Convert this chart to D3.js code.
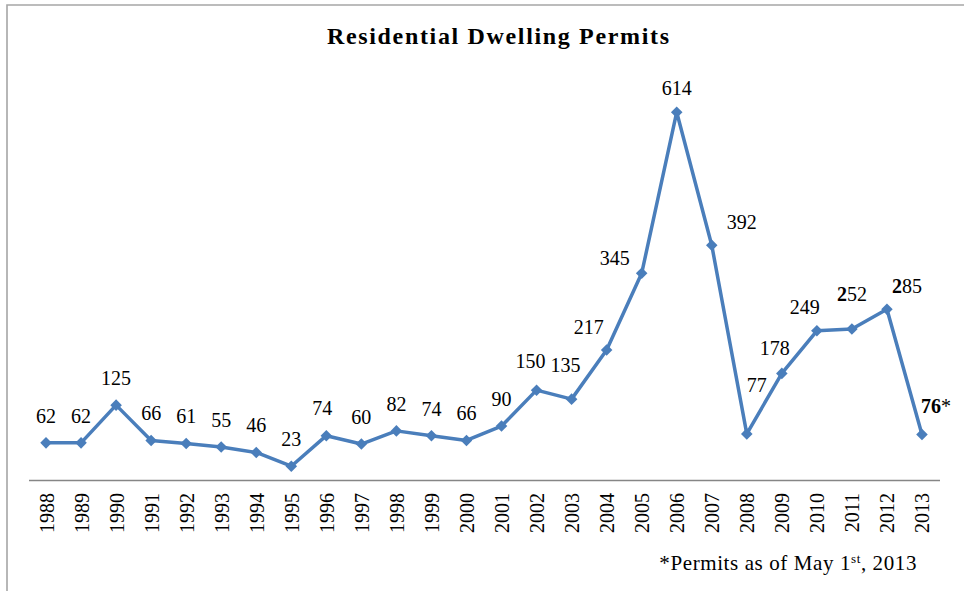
<!DOCTYPE html>
<html>
<head>
<meta charset="utf-8">
<script src="https://cdn.jsdelivr.net/npm/d3@7"></script>
<style>
  body { margin: 0; background: #fff; }
  text { font-family: "Liberation Serif", "Times New Roman", serif; fill: #000; }
</style>
</head>
<body>
<script>
var years = [1988, 1989, 1990, 1991, 1992, 1993, 1994, 1995, 1996, 1997, 1998, 1999, 2000,
             2001, 2002, 2003, 2004, 2005, 2006, 2007, 2008, 2009, 2010, 2011, 2012, 2013];
var permits = [62, 62, 125, 66, 61, 55, 46, 23, 74, 60, 82, 74, 66,
               90, 150, 135, 217, 345, 614, 392, 77, 178, 249, 252, 285, 76];
var title = "Residential Dwelling Permits";

// labels that were dragged by hand in the original
var labelNudge = {
  1996: [-4, -21], 2002: [-6, -22], 2003: [-6, -27], 2004: [-18, -16], 2005: [-27, -8],
  2006: [0, -17], 2007: [30, -16], 2008: [10, -42], 2009: [-7, -18], 2010: [-12, -17],
  2011: [0, -28], 2012: [20, -16], 2013: [14, -21]
};
// how many leading characters of the label are bold
var boldChars = { 2011: 1, 2012: 1, 2013: 2 };

var width = 964, height = 591;
var svg = d3.select("body").append("svg")
  .attr("width", width)
  .attr("height", height);

svg.append("rect").attr("width", width).attr("height", height).attr("fill", "#fff");

// frame (only top and left edges are visible)
svg.append("path")
  .attr("d", "M7,591 V5 H964")
  .attr("fill", "none")
  .attr("stroke", "#a6a6a6")
  .attr("stroke-width", 1.6);

var x = d3.scalePoint()
  .domain(years)
  .range([28.5, 939.5])
  .padding(0.5);

var y = d3.scaleLinear()
  .domain([0, 700])
  .range([480, 60.7]);

svg.append("text")
  .attr("x", 498)
  .attr("y", 44)
  .attr("text-anchor", "middle")
  .style("font-size", "24px")
  .style("font-weight", "bold")
  .attr("textLength", 342)
  .attr("lengthAdjust", "spacing")
  .text(title);

var xAxis = svg.append("g")
  .attr("transform", "translate(0," + y(0) + ")")
  .call(d3.axisBottom(x).tickSize(0).tickPadding(0));

xAxis.select(".domain").attr("stroke", "#868686").attr("stroke-width", 1.3);
xAxis.selectAll(".tick text")
  .attr("transform", "rotate(-90)")
  .attr("text-anchor", "end")
  .attr("x", -13)
  .attr("y", 0)
  .attr("dy", "0.35em")
  .style("font-family", "'Liberation Serif', serif")
  .style("font-size", "20px")
  .attr("fill", "#000");

var data = years.map(function (yr, i) { return { year: yr, value: permits[i] }; });

var line = d3.line()
  .x(function (d) { return x(d.year); })
  .y(function (d) { return y(d.value); });

svg.append("path")
  .datum(data)
  .attr("d", line)
  .attr("fill", "none")
  .attr("stroke", "#4a7ebb")
  .attr("stroke-width", 3.5)
  .attr("stroke-linejoin", "round");

svg.selectAll(".marker")
  .data(data)
  .enter()
  .append("path")
  .classed("marker", true)
  .attr("d", d3.symbol().type(d3.symbolDiamond2).size(85))
  .attr("transform", function (d) { return "translate(" + x(d.year) + "," + y(d.value) + ")"; })
  .attr("fill", "#4a7ebb");

svg.selectAll(".label")
  .data(data)
  .enter()
  .append("text")
  .classed("label", true)
  .attr("text-anchor", "middle")
  .style("font-size", "20px")
  .attr("x", function (d) { return x(d.year) + (labelNudge[d.year] ? labelNudge[d.year][0] : 0); })
  .attr("y", function (d) { return y(d.value) + (labelNudge[d.year] ? labelNudge[d.year][1] : -20); })
  .each(function (d) {
    var s = String(d.value) + (d.year === 2013 ? "*" : "");
    var nb = boldChars[d.year] || 0;
    var t = d3.select(this);
    if (nb) t.append("tspan").style("font-weight", "bold").text(s.slice(0, nb));
    t.append("tspan").text(s.slice(nb));
  });

// footnote
var note = svg.append("text")
  .attr("x", 917)
  .attr("y", 570)
  .attr("text-anchor", "end")
  .style("font-size", "21px")
  .style("letter-spacing", "0.6px");
note.append("tspan").text("*Permits as of May 1");
note.append("tspan").attr("dy", -7).style("font-size", "13px").text("st");
note.append("tspan").attr("dy", 7).text(", 2013");
</script>
</body>
</html>
